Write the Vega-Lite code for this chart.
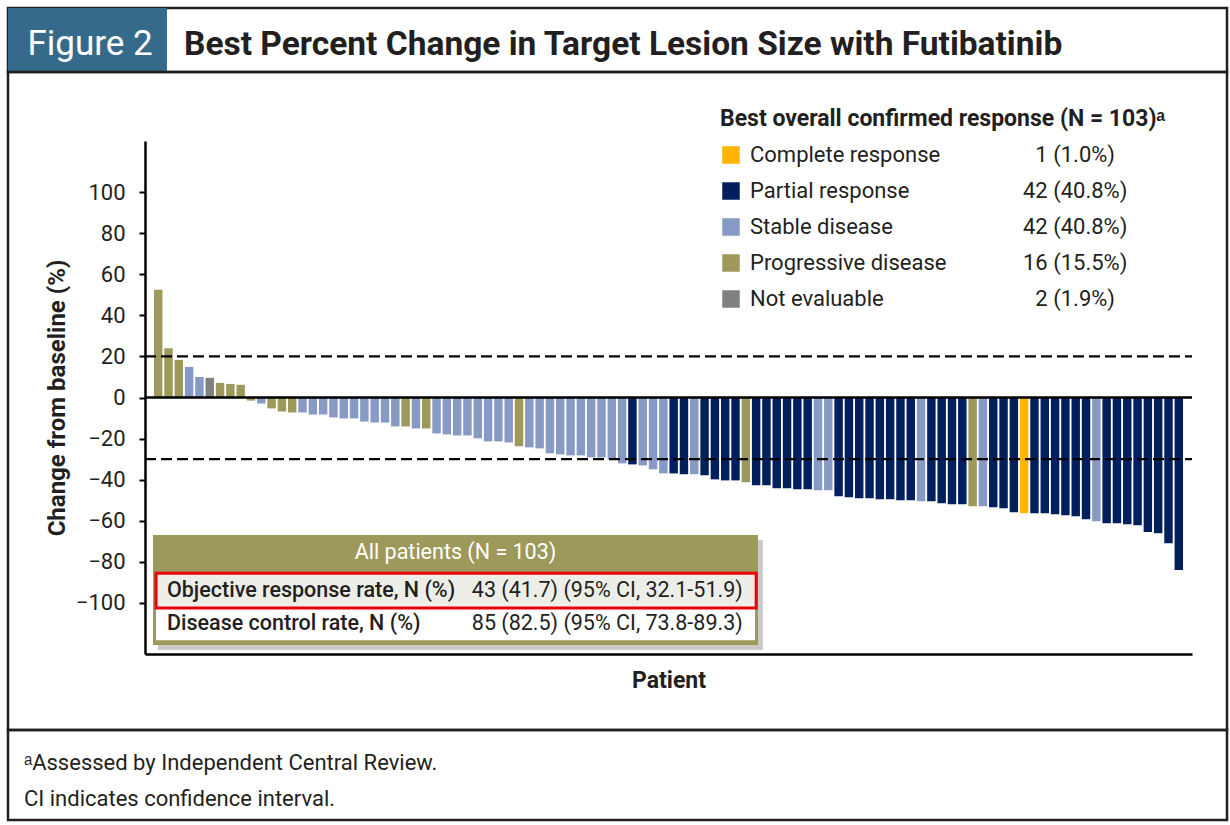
{
  "$schema": "https://vega.github.io/schema/vega-lite/v6.json",
  "padding": {"left": 6, "top": 6, "right": 5, "bottom": 5},
  "background": "white",
  "spacing": 0,
  "bounds": "flush",
  "config": {
    "font": "Roboto, Liberation Sans, sans-serif",
    "view": {"stroke": "#231F20", "strokeWidth": 2.5},
    "axis": {"grid": false}
  },
  "vconcat": [
    {
      "width": 1219,
      "height": 64,
      "data": {"values": [{}]},
      "layer": [
        {
          "mark": {"type": "rect", "fill": "#356A8A"},
          "encoding": {
            "x": {"datum": 0, "type": "quantitative", "scale": {"domain": [0, 1], "nice": false}, "axis": null},
            "x2": {"datum": 0.1304},
            "y": {"datum": 0, "type": "quantitative", "scale": {"domain": [0, 1], "nice": false}, "axis": null},
            "y2": {"datum": 1}
          }
        },
        {
          "mark": {"type": "text", "text": "Figure 2", "align": "center", "baseline": "alphabetic", "fontSize": 35, "color": "white"},
          "encoding": {"x": {"datum": 0.0673}, "y": {"datum": 0.266}}
        },
        {
          "mark": {"type": "text", "text": "Best Percent Change in Target Lesion Size with Futibatinib", "align": "left", "baseline": "alphabetic", "fontSize": 33.5, "fontWeight": "bold", "color": "#231F20"},
          "encoding": {"x": {"datum": 0.1444}, "y": {"datum": 0.266}}
        }
      ]
    },
    {
      "width": 1219,
      "height": 658,
      "resolve": {"scale": {"x": "independent"}},
      "layer": [
        {
          "data": {
            "values": [
              {"patient": 1, "change": 52.5, "response": "Progressive disease"},
              {"patient": 2, "change": 24, "response": "Progressive disease"},
              {"patient": 3, "change": 18.3, "response": "Progressive disease"},
              {"patient": 4, "change": 14.9, "response": "Stable disease"},
              {"patient": 5, "change": 10, "response": "Stable disease"},
              {"patient": 6, "change": 9.6, "response": "Not evaluable"},
              {"patient": 7, "change": 7.1, "response": "Progressive disease"},
              {"patient": 8, "change": 6.6, "response": "Progressive disease"},
              {"patient": 9, "change": 6.2, "response": "Progressive disease"},
              {"patient": 10, "change": -1.5, "response": "Progressive disease"},
              {"patient": 11, "change": -2.9, "response": "Stable disease"},
              {"patient": 12, "change": -5.3, "response": "Progressive disease"},
              {"patient": 13, "change": -6.8, "response": "Progressive disease"},
              {"patient": 14, "change": -7.3, "response": "Progressive disease"},
              {"patient": 15, "change": -7.3, "response": "Stable disease"},
              {"patient": 16, "change": -8.3, "response": "Stable disease"},
              {"patient": 17, "change": -8.3, "response": "Stable disease"},
              {"patient": 18, "change": -9.7, "response": "Stable disease"},
              {"patient": 19, "change": -10.2, "response": "Stable disease"},
              {"patient": 20, "change": -10.2, "response": "Stable disease"},
              {"patient": 21, "change": -11.7, "response": "Stable disease"},
              {"patient": 22, "change": -12.2, "response": "Stable disease"},
              {"patient": 23, "change": -12.2, "response": "Stable disease"},
              {"patient": 24, "change": -14.1, "response": "Stable disease"},
              {"patient": 25, "change": -14.1, "response": "Progressive disease"},
              {"patient": 26, "change": -15.1, "response": "Stable disease"},
              {"patient": 27, "change": -15.1, "response": "Progressive disease"},
              {"patient": 28, "change": -17.5, "response": "Stable disease"},
              {"patient": 29, "change": -18, "response": "Stable disease"},
              {"patient": 30, "change": -18.5, "response": "Stable disease"},
              {"patient": 31, "change": -18.5, "response": "Stable disease"},
              {"patient": 32, "change": -19.9, "response": "Stable disease"},
              {"patient": 33, "change": -21.4, "response": "Stable disease"},
              {"patient": 34, "change": -21.4, "response": "Stable disease"},
              {"patient": 35, "change": -21.9, "response": "Stable disease"},
              {"patient": 36, "change": -23.8, "response": "Progressive disease"},
              {"patient": 37, "change": -24.3, "response": "Stable disease"},
              {"patient": 38, "change": -24.8, "response": "Stable disease"},
              {"patient": 39, "change": -27.2, "response": "Stable disease"},
              {"patient": 40, "change": -27.7, "response": "Stable disease"},
              {"patient": 41, "change": -28.2, "response": "Stable disease"},
              {"patient": 42, "change": -28.2, "response": "Stable disease"},
              {"patient": 43, "change": -29.2, "response": "Stable disease"},
              {"patient": 44, "change": -29.2, "response": "Stable disease"},
              {"patient": 45, "change": -30.1, "response": "Stable disease"},
              {"patient": 46, "change": -32.1, "response": "Stable disease"},
              {"patient": 47, "change": -32.6, "response": "Partial response"},
              {"patient": 48, "change": -33.1, "response": "Stable disease"},
              {"patient": 49, "change": -35, "response": "Stable disease"},
              {"patient": 50, "change": -37, "response": "Stable disease"},
              {"patient": 51, "change": -37, "response": "Partial response"},
              {"patient": 52, "change": -37.4, "response": "Partial response"},
              {"patient": 53, "change": -37.4, "response": "Stable disease"},
              {"patient": 54, "change": -37.9, "response": "Partial response"},
              {"patient": 55, "change": -39.9, "response": "Partial response"},
              {"patient": 56, "change": -40.4, "response": "Partial response"},
              {"patient": 57, "change": -40.4, "response": "Partial response"},
              {"patient": 58, "change": -41.3, "response": "Progressive disease"},
              {"patient": 59, "change": -42.8, "response": "Partial response"},
              {"patient": 60, "change": -42.8, "response": "Partial response"},
              {"patient": 61, "change": -44.2, "response": "Partial response"},
              {"patient": 62, "change": -44.2, "response": "Partial response"},
              {"patient": 63, "change": -44.7, "response": "Partial response"},
              {"patient": 64, "change": -44.7, "response": "Partial response"},
              {"patient": 65, "change": -45.2, "response": "Stable disease"},
              {"patient": 66, "change": -45.2, "response": "Stable disease"},
              {"patient": 67, "change": -48.1, "response": "Partial response"},
              {"patient": 68, "change": -48.6, "response": "Partial response"},
              {"patient": 69, "change": -49.1, "response": "Partial response"},
              {"patient": 70, "change": -49.1, "response": "Partial response"},
              {"patient": 71, "change": -49.6, "response": "Partial response"},
              {"patient": 72, "change": -49.6, "response": "Partial response"},
              {"patient": 73, "change": -50.1, "response": "Partial response"},
              {"patient": 74, "change": -50.1, "response": "Partial response"},
              {"patient": 75, "change": -50.6, "response": "Stable disease"},
              {"patient": 76, "change": -50.6, "response": "Partial response"},
              {"patient": 77, "change": -51.5, "response": "Partial response"},
              {"patient": 78, "change": -52, "response": "Partial response"},
              {"patient": 79, "change": -52, "response": "Partial response"},
              {"patient": 80, "change": -53, "response": "Progressive disease"},
              {"patient": 81, "change": -53, "response": "Stable disease"},
              {"patient": 82, "change": -53.5, "response": "Partial response"},
              {"patient": 83, "change": -54, "response": "Partial response"},
              {"patient": 84, "change": -55.9, "response": "Partial response"},
              {"patient": 85, "change": -56.4, "response": "Complete response"},
              {"patient": 86, "change": -56.4, "response": "Partial response"},
              {"patient": 87, "change": -56.4, "response": "Partial response"},
              {"patient": 88, "change": -56.9, "response": "Partial response"},
              {"patient": 89, "change": -57.4, "response": "Partial response"},
              {"patient": 90, "change": -57.9, "response": "Partial response"},
              {"patient": 91, "change": -59.3, "response": "Partial response"},
              {"patient": 92, "change": -60.3, "response": "Stable disease"},
              {"patient": 93, "change": -61.3, "response": "Partial response"},
              {"patient": 94, "change": -61.3, "response": "Partial response"},
              {"patient": 95, "change": -61.8, "response": "Partial response"},
              {"patient": 96, "change": -62.2, "response": "Partial response"},
              {"patient": 97, "change": -65.6, "response": "Partial response"},
              {"patient": 98, "change": -66.1, "response": "Partial response"},
              {"patient": 99, "change": -71, "response": "Partial response"},
              {"patient": 100, "change": -84.1, "response": "Partial response"}
            ]
          },
          "mark": {"type": "bar"},
          "encoding": {
            "x": {
              "field": "patient",
              "type": "ordinal",
              "scale": {"range": [137, 1184], "paddingInner": 0.18, "paddingOuter": 0.87},
              "axis": {
                "orient": "bottom",
                "offset": -76,
                "labels": false,
                "ticks": false,
                "domainColor": "#000",
                "domainWidth": 2.5,
                "title": "Patient",
                "titleFontSize": 23,
                "titleFontWeight": "bold",
                "titleColor": "#231F20",
                "titlePadding": 15
              }
            },
            "y": {
              "field": "change",
              "type": "quantitative",
              "scale": {"domain": [-125, 125], "range": [582, 69], "nice": false},
              "axis": {
                "orient": "left",
                "offset": -137,
                "values": [-100, -80, -60, -40, -20, 0, 20, 40, 60, 80, 100],
                "domainColor": "#000",
                "domainWidth": 2.5,
                "tickColor": "#000",
                "tickWidth": 2,
                "tickSize": 6,
                "labelFontSize": 22,
                "labelColor": "#231F20",
                "labelPadding": 14,
                "title": "Change from baseline (%)",
                "titleFontSize": 24,
                "titleFontWeight": "bold",
                "titleColor": "#231F20",
                "titlePadding": 6
              }
            },
            "color": {
              "field": "response",
              "type": "nominal",
              "scale": {
                "domain": ["Complete response", "Partial response", "Stable disease", "Progressive disease", "Not evaluable", "n_CR", "n_PR", "n_SD", "n_PD", "n_NE"],
                "range": ["#FFB400", "#001F5C", "#8799C5", "#9D995B", "#808080", "rgba(0,0,0,0)", "rgba(0,0,0,0)", "rgba(0,0,0,0)", "rgba(0,0,0,0)", "rgba(0,0,0,0)"]
              },
              "legend": {
                "orient": "none",
                "legendX": 712,
                "legendY": 100,
                "columns": 2,
                "columnPadding": 46,
                "rowPadding": 14,
                "padding": 0,
                "title": "Best overall confirmed response (N = 103)ᵃ",
                "titleFontSize": 23,
                "titleFontWeight": "bold",
                "titleColor": "#231F20",
                "titleLimit": 700,
                "titlePadding": 13,
                "titleAnchor": "start",
                "labelFontSize": 22,
                "labelColor": "#231F20",
                "labelLimit": 400,
                "labelOffset": 8,
                "symbolType": "square",
                "symbolSize": 306,
                "symbolStrokeWidth": 0,
                "labelExpr": "datum.label == 'n_CR' ? '\u200B\u20071 (1.0%)' : datum.label == 'n_PR' ? '42 (40.8%)' : datum.label == 'n_SD' ? '42 (40.8%)' : datum.label == 'n_PD' ? '16 (15.5%)' : datum.label == 'n_NE' ? '\u200B\u20072 (1.9%)' : datum.label"
              }
            }
          }
        },
        {
          "data": {"values": [{}]},
          "layer": [
            {
              "mark": {"type": "rule", "color": "#000", "strokeWidth": 2.5},
              "encoding": {
                "x": {"datum": 0, "type": "quantitative", "scale": {"domain": [0, 1], "range": [137, 1184], "nice": false}, "axis": null},
                "x2": {"datum": 1},
                "y": {"datum": 0}
              }
            },
            {
              "mark": {"type": "rule", "color": "#000", "strokeWidth": 2.2, "strokeDash": [11, 5]},
              "encoding": {"x": {"datum": 0}, "x2": {"datum": 1}, "y": {"datum": 20}}
            },
            {
              "mark": {"type": "rule", "color": "#000", "strokeWidth": 2.2, "strokeDash": [11, 5]},
              "encoding": {"x": {"datum": 0}, "x2": {"datum": 1}, "y": {"datum": -30}}
            }
          ]
        },
        {
          "data": {"values": [{}]},
          "layer": [
            {
              "mark": {"type": "rect", "fill": "#8a8a8a", "opacity": 0.45},
              "encoding": {
                "x": {"datum": 0.008, "type": "quantitative", "scale": {"domain": [0, 1], "range": [145, 750], "nice": false}, "axis": null},
                "x2": {"datum": 1.008},
                "y": {"datum": -69.5},
                "y2": {"datum": -123}
              }
            },
            {
              "mark": {"type": "rect", "fill": "#9D995B"},
              "encoding": {"x": {"datum": 0}, "x2": {"datum": 1}, "y": {"datum": -67}, "y2": {"datum": -120.6}}
            },
            {
              "mark": {"type": "rect", "fill": "white"},
              "encoding": {"x": {"datum": 0.005}, "x2": {"datum": 0.995}, "y": {"datum": -102.6}, "y2": {"datum": -118.3}}
            },
            {
              "mark": {"type": "rect", "fill": "#EEEEE8", "stroke": "#E8000B", "strokeWidth": 3},
              "encoding": {"x": {"datum": 0.005}, "x2": {"datum": 0.997}, "y": {"datum": -85.6}, "y2": {"datum": -102.6}}
            },
            {
              "mark": {"type": "text", "text": "All patients (N = 103)", "align": "center", "baseline": "middle", "fontSize": 21.5, "color": "white"},
              "encoding": {"x": {"datum": 0.5}, "y": {"datum": -75.6}}
            },
            {
              "mark": {"type": "text", "text": "Objective response rate, N (%)", "align": "left", "baseline": "middle", "fontSize": 21.5, "fontWeight": 500, "color": "#231F20"},
              "encoding": {"x": {"datum": 0.0231}, "y": {"datum": -94.2}}
            },
            {
              "mark": {"type": "text", "text": "43 (41.7) (95% CI, 32.1-51.9)", "align": "left", "baseline": "middle", "fontSize": 21.5, "color": "#231F20"},
              "encoding": {"x": {"datum": 0.527}, "y": {"datum": -94.2}}
            },
            {
              "mark": {"type": "text", "text": "Disease control rate, N (%)", "align": "left", "baseline": "middle", "fontSize": 21.5, "fontWeight": 500, "color": "#231F20"},
              "encoding": {"x": {"datum": 0.0231}, "y": {"datum": -110.6}}
            },
            {
              "mark": {"type": "text", "text": "85 (82.5) (95% CI, 73.8-89.3)", "align": "left", "baseline": "middle", "fontSize": 21.5, "color": "#231F20"},
              "encoding": {"x": {"datum": 0.527}, "y": {"datum": -110.6}}
            }
          ]
        }
      ]
    },
    {
      "width": 1219,
      "height": 90,
      "data": {"values": [{}]},
      "layer": [
        {
          "mark": {"type": "text", "text": "ᵃAssessed by Independent Central Review.", "align": "left", "baseline": "alphabetic", "fontSize": 22, "color": "#231F20"},
          "encoding": {
            "x": {"datum": 0.0131, "type": "quantitative", "scale": {"domain": [0, 1], "nice": false}, "axis": null},
            "y": {"datum": 0.56, "type": "quantitative", "scale": {"domain": [0, 1], "nice": false}, "axis": null}
          }
        },
        {
          "mark": {"type": "text", "text": "CI indicates confidence interval.", "align": "left", "baseline": "alphabetic", "fontSize": 22, "color": "#231F20"},
          "encoding": {"x": {"datum": 0.0131}, "y": {"datum": 0.16}}
        }
      ]
    }
  ]
}
